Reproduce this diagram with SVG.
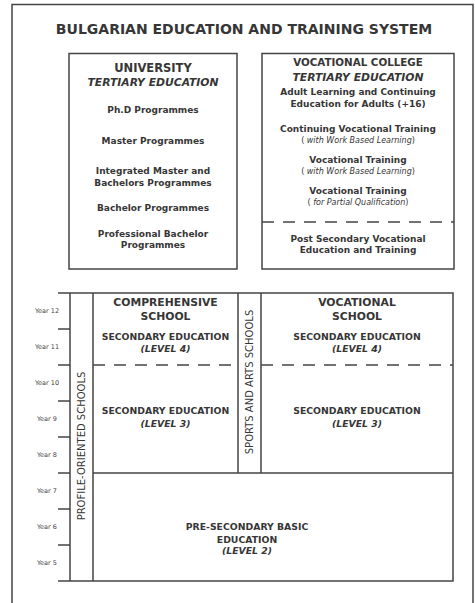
<svg xmlns="http://www.w3.org/2000/svg" width="475" height="603" viewBox="0 0 475 603">
<style>
text{font-family:"DejaVu Sans","Liberation Sans",sans-serif;fill:#363636;text-anchor:middle}
.ttl{font-size:14px;font-weight:bold}
.h1{font-size:11.5px;font-weight:bold}
.it{font-size:10.8px;font-style:italic;font-weight:bold}
.b9{font-size:9px;font-weight:bold}
.sm{font-size:8px}
.smi{font-style:italic}
.yr{font-size:6.5px;fill:#444}
.h2{font-size:10.8px;font-weight:bold}
.sec{font-size:9.3px;font-weight:bold}
.lvl{font-size:9.3px;font-style:italic;font-weight:bold}
.vt{font-size:10px}
.ln{stroke:#444;stroke-width:1.5;fill:none}
.dash{stroke:#444;stroke-width:1.6;fill:none;stroke-dasharray:12 9}
</style>
<rect width="475" height="603" fill="#fff"/>
<path class="ln" d="M12 603V4.5H473V603"/>
<g id="title"><text class="ttl" x="244" y="33.5">BULGARIAN EDUCATION AND TRAINING SYSTEM</text></g>

<g id="university">
<rect class="ln" x="69" y="53.5" width="168" height="215.5"/>
<text class="h1" x="153" y="72">UNIVERSITY</text>
<text class="it" x="153" y="86">TERTIARY EDUCATION</text>
<text class="b9" x="153" y="113">Ph.D Programmes</text>
<text class="b9" x="153" y="144">Master Programmes</text>
<text class="b9" x="153" y="174">Integrated Master and</text>
<text class="b9" x="153" y="186">Bachelors Programmes</text>
<text class="b9" x="153" y="211">Bachelor Programmes</text>
<text class="b9" x="153" y="237">Professional Bachelor</text>
<text class="b9" x="153" y="248">Programmes</text>
</g>

<g id="vocational-college">
<rect class="ln" x="262" y="53.5" width="192" height="215.5"/>
<text class="h1" x="358" y="66" style="font-size:10.3px">VOCATIONAL COLLEGE</text>
<text class="it" x="358" y="81">TERTIARY EDUCATION</text>
<text class="b9" x="358" y="95">Adult Learning and Continuing</text>
<text class="b9" x="358" y="107">Education for Adults (+16)</text>
<text class="b9" x="358" y="132">Continuing Vocational Training</text>
<text class="sm" x="358" y="143">( <tspan class="smi">with Work Based Learning</tspan>)</text>
<text class="b9" x="358" y="163">Vocational Training</text>
<text class="sm" x="358" y="174">( <tspan class="smi">with Work Based Learning</tspan>)</text>
<text class="b9" x="358" y="194">Vocational Training</text>
<text class="sm" x="358" y="205">( <tspan class="smi">for Partial Qualification</tspan>)</text>
<path class="dash" d="M262 222H454"/>
<text class="b9" x="358" y="242">Post Secondary Vocational</text>
<text class="b9" x="358" y="253">Education and Training</text>
</g>

<g id="connectors">
<path class="ln" d="M58 293H453V581H58M70 293V581M93 293V581M238 293V473M261 293V473M58 473H70M93 473H453"/>
<path class="ln" d="M58 329H70M58 365H70M58 401H70M58 437H70M58 509H70M58 545H70"/>
<path class="dash" d="M93 365H238M261 365H453"/>
</g>

<g id="years">
<text class="yr" x="47" y="313">Year 12</text>
<text class="yr" x="47" y="349">Year 11</text>
<text class="yr" x="47" y="385">Year 10</text>
<text class="yr" x="47" y="421">Year 9</text>
<text class="yr" x="47" y="457">Year 8</text>
<text class="yr" x="47" y="493">Year 7</text>
<text class="yr" x="47" y="529">Year 6</text>
<text class="yr" x="47" y="565">Year 5</text>
</g>

<g id="profile-oriented-schools">
<text class="vt" transform="translate(85,446) rotate(-90)">PROFILE-ORIENTED SCHOOLS</text>
</g>

<g id="sports-and-arts-schools">
<text class="vt" transform="translate(253,382) rotate(-90)">SPORTS AND ARTS SCHOOLS</text>
</g>

<g id="comprehensive-school">
<text class="h2" x="165.5" y="306">COMPREHENSIVE</text>
<text class="h2" x="165.5" y="320">SCHOOL</text>
<text class="sec" x="165.5" y="340">SECONDARY EDUCATION</text>
<text class="lvl" x="165.5" y="352">(LEVEL 4)</text>
<text class="sec" x="165.5" y="414">SECONDARY EDUCATION</text>
<text class="lvl" x="165.5" y="426.5">(LEVEL 3)</text>
</g>

<g id="vocational-school">
<text class="h2" x="357" y="306">VOCATIONAL</text>
<text class="h2" x="357" y="320">SCHOOL</text>
<text class="sec" x="357" y="340">SECONDARY EDUCATION</text>
<text class="lvl" x="357" y="352">(LEVEL 4)</text>
<text class="sec" x="357" y="414">SECONDARY EDUCATION</text>
<text class="lvl" x="357" y="426.5">(LEVEL 3)</text>
</g>

<g id="pre-secondary">
<text class="sec" x="247" y="530">PRE-SECONDARY BASIC</text>
<text class="sec" x="247" y="542.5">EDUCATION</text>
<text class="lvl" x="247" y="554">(LEVEL 2)</text>
</g>
</svg>
